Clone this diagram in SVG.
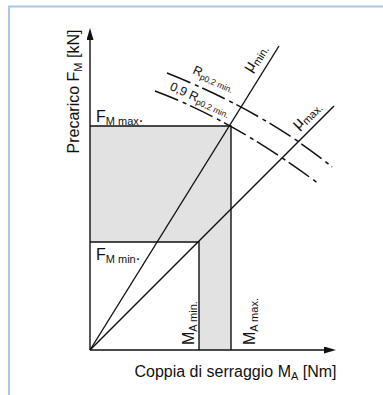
<svg xmlns="http://www.w3.org/2000/svg" width="383" height="395" viewBox="0 0 383 395">
<style>
.ln{stroke:#111;stroke-width:1.4;fill:none}
.dd{stroke:#111;stroke-width:1.5;fill:none;stroke-dasharray:25 5 4 4}
.t{font-family:"Liberation Sans",Arial,sans-serif;fill:#111}
.ax{font-size:16px}
.lb{font-size:16px}
.sm{font-size:12.5px}
.s1{font-size:11px}
.s2{font-size:11px}
.s3{font-size:8.5px}
</style>
<defs>
<marker id="arr" markerUnits="userSpaceOnUse" markerWidth="13" markerHeight="8" refX="0" refY="3.5" orient="auto">
<path d="M0,0 L12,3.5 L0,7 Z" fill="#111"/>
</marker>
</defs>
<rect width="383" height="395" fill="#fff"/>
<path d="M9,395 V6.5 H383" fill="none" stroke="#aac6ec" stroke-width="2"/>
<g id="areas">
<path d="M90,126 H231 V350 H199 V242 H90 Z" fill="#e2e2e2"/>
</g>
<g id="connectors">
<line class="ln" x1="90" y1="350" x2="90" y2="40" marker-end="url(#arr)"/>
<line class="ln" x1="90" y1="350" x2="324" y2="350" marker-end="url(#arr)"/>
<path class="ln" d="M90,126 H231 V350"/>
<path class="ln" d="M90,242 H199 V350"/>
<line class="ln" x1="90" y1="350" x2="279" y2="46"/>
<line class="ln" x1="90" y1="350" x2="334" y2="106"/>
<path class="dd" d="M167,73 Q265,112 332,167"/>
<path class="dd" d="M155,91 Q233,120 319,184"/>
</g>
<g id="label-y">
<text class="t ax" transform="translate(79,91.5) rotate(-90)" text-anchor="middle">Precarico F<tspan class="s1" dy="3">M</tspan><tspan dy="-3"> [kN]</tspan></text>
</g>
<g id="label-x">
<text class="t ax" x="235.5" y="377" text-anchor="middle">Coppia di serraggio M<tspan class="s1" dy="3">A</tspan><tspan dy="-3"> [Nm]</tspan></text>
</g>
<g id="fmmax">
<text class="t lb" x="96" y="122">F<tspan class="s2" dy="3">M max</tspan><tspan dy="-3">.</tspan></text>
</g>
<g id="fmmin">
<text class="t lb" x="96" y="260">F<tspan class="s2" dy="3">M min</tspan><tspan dy="-3">.</tspan></text>
</g>
<g id="mamin">
<text class="t lb" transform="translate(193.5,345) rotate(-90)">M<tspan class="s2" dy="3">A min.</tspan></text>
</g>
<g id="mamax">
<text class="t lb" transform="translate(255,345) rotate(-90)">M<tspan class="s2" dy="3">A max.</tspan></text>
</g>
<g id="mumin">
<text class="t lb" transform="translate(251,73) rotate(-58)">μ<tspan class="s2" dy="3">min.</tspan></text>
</g>
<g id="mumax">
<text class="t lb" transform="translate(298,130) rotate(-45)">μ<tspan class="s2" dy="3">max.</tspan></text>
</g>
<g id="rp">
<text class="t sm" transform="translate(192,73) rotate(24)">R<tspan class="s3" dy="2.5">p0,2 min.</tspan></text>
</g>
<g id="rp09">
<text class="t sm" transform="translate(169,89.5) rotate(24)">0,9 R<tspan class="s3" dy="2.5">p0,2 min.</tspan></text>
</g>
</svg>
